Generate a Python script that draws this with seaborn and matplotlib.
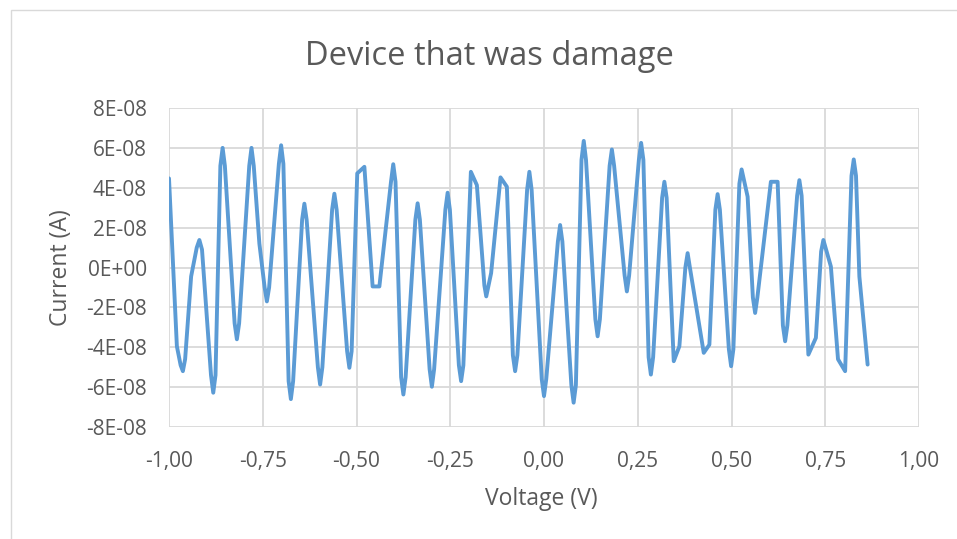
import numpy as np
import matplotlib
matplotlib.use('Agg')
import matplotlib.pyplot as plt
import seaborn as sns
from matplotlib.patches import Rectangle

# values (current in units of 1E-08 A)
voltage = [-1.000, -0.979, -0.969, -0.963, -0.957, -0.941, -0.926, -0.919, -0.912, -0.888,
           -0.882, -0.876, -0.863, -0.857, -0.851, -0.825, -0.819, -0.813, -0.786, -0.780,
           -0.774, -0.759, -0.745, -0.739, -0.733, -0.707, -0.701, -0.695, -0.681, -0.675,
           -0.669, -0.645, -0.639, -0.633, -0.603, -0.597, -0.591, -0.565, -0.559, -0.553,
           -0.525, -0.519, -0.513, -0.498, -0.479, -0.457, -0.439, -0.408, -0.402, -0.396,
           -0.381, -0.375, -0.369, -0.343, -0.337, -0.331, -0.305, -0.299, -0.293, -0.263,
           -0.257, -0.251, -0.227, -0.221, -0.215, -0.195, -0.179, -0.159, -0.154, -0.141,
           -0.116, -0.099, -0.083, -0.077, -0.071, -0.045, -0.039, -0.033, -0.006, 0.000,
           0.006, 0.037, 0.043, 0.049, 0.073, 0.079, 0.085, 0.100, 0.106, 0.112,
           0.137, 0.143, 0.149, 0.175, 0.181, 0.187, 0.215, 0.221, 0.227, 0.253,
           0.259, 0.265, 0.279, 0.285, 0.291, 0.315, 0.321, 0.327, 0.346, 0.361,
           0.377, 0.383, 0.389, 0.426, 0.441, 0.457, 0.463, 0.469, 0.493, 0.499,
           0.505, 0.521, 0.527, 0.543, 0.557, 0.563, 0.569, 0.605, 0.623, 0.637,
           0.643, 0.649, 0.675, 0.681, 0.687, 0.705, 0.725, 0.739, 0.745, 0.765,
           0.784, 0.803, 0.820, 0.826, 0.832, 0.841, 0.863]
current_e8 = [4.47, -3.95, -4.90, -5.20, -4.60, -0.45, 1.00, 1.38, 0.90, -5.40,
              -6.28, -5.40, 5.10, 6.00, 5.10, -2.80, -3.60, -2.80, 5.10, 6.00,
              5.10, 1.20, -1.00, -1.70, -1.00, 5.20, 6.13, 5.20, -5.70, -6.60,
              -5.70, 2.40, 3.20, 2.40, -5.00, -5.87, -5.00, 2.90, 3.70, 2.90,
              -4.20, -5.03, -4.20, 4.72, 5.05, -0.95, -0.95, 4.30, 5.18, 4.30,
              -5.50, -6.37, -5.50, 2.40, 3.22, 2.40, -5.10, -5.98, -5.10, 2.90,
              3.75, 2.90, -4.90, -5.70, -4.90, 4.80, 4.13, -0.90, -1.45, -0.28,
              4.52, 4.05, -4.40, -5.20, -4.40, 3.90, 4.80, 3.90, -5.60, -6.45,
              -5.60, 1.30, 2.13, 1.30, -5.90, -6.78, -5.90, 5.40, 6.35, 5.40,
              -2.60, -3.45, -2.60, 5.10, 5.92, 5.10, -0.40, -1.20, -0.40, 5.40,
              6.25, 5.40, -4.50, -5.37, -4.50, 3.50, 4.30, 3.50, -4.70, -3.95,
              0.00, 0.72, 0.00, -4.28, -3.87, 2.90, 3.68, 2.90, -4.10, -4.95,
              -4.10, 4.20, 4.92, 3.55, -1.50, -2.28, -1.50, 4.30, 4.30, -2.90,
              -3.70, -2.90, 3.60, 4.38, 3.60, -4.37, -3.53, 0.80, 1.38, 0.05,
              -4.60, -5.20, 4.60, 5.42, 4.60, -0.45, -4.87]

x_ticks = [-1.0, -0.75, -0.5, -0.25, 0.0, 0.25, 0.5, 0.75, 1.0]
x_labels = ['-1,00', '-0,75', '-0,50', '-0,25', '0,00', '0,25', '0,50', '0,75', '1,00']
y_ticks = [-8e-8, -6e-8, -4e-8, -2e-8, 0, 2e-8, 4e-8, 6e-8, 8e-8]
y_labels = ['-8E-08', '-6E-08', '-4E-08', '-2E-08', '0E+00', '2E-08', '4E-08', '6E-08', '8E-08']

sns.set_style('white')
plt.rcParams['font.family'] = ['Open Sans', 'DejaVu Sans']
txt = '#595959'
grid = '#d9d9d9'

fig = plt.figure(figsize=(9.57, 5.39), dpi=100)
ax = fig.add_axes([169/957, 1 - 427/539, 750/957, 319/539])

current = np.array(current_e8) * 1e-8
sns.lineplot(x=voltage, y=current, ax=ax, color='#5b9bd5', linewidth=2.8,
             sort=False, estimator=None, solid_joinstyle='round', zorder=3)

ax.set_xlim(-1, 1)
ax.set_ylim(-8e-8, 8e-8)
ax.set_xticks(x_ticks)
ax.set_xticklabels(x_labels)
ax.set_yticks(y_ticks)
ax.set_yticklabels(y_labels)
ax.tick_params(axis='both', length=0, labelsize=15, labelcolor=txt)
ax.tick_params(axis='x', pad=17)
ax.tick_params(axis='y', pad=16)
ax.grid(True, color=grid, linewidth=1.3)
for s in ax.spines.values():
    s.set_visible(False)

fig.text(489/957, 1 - 65/539, 'Device that was damage', ha='center', va='baseline',
         fontsize=23.5, color=txt)
fig.text(541/957, 1 - 505/539, 'Voltage (V)', ha='center', va='baseline',
         fontsize=16.5, color=txt)
fig.text(61/957, 1 - 268/539, 'Current (A)', ha='center', va='center', rotation=90,
         fontsize=16.5, color=txt)

fig.add_artist(Rectangle((10.5/957, -0.5), 2, 1 - 9.5/539 + 0.5, transform=fig.transFigure,
                         fill=False, edgecolor=grid, linewidth=1))

fig.savefig('out.png', dpi=100)
